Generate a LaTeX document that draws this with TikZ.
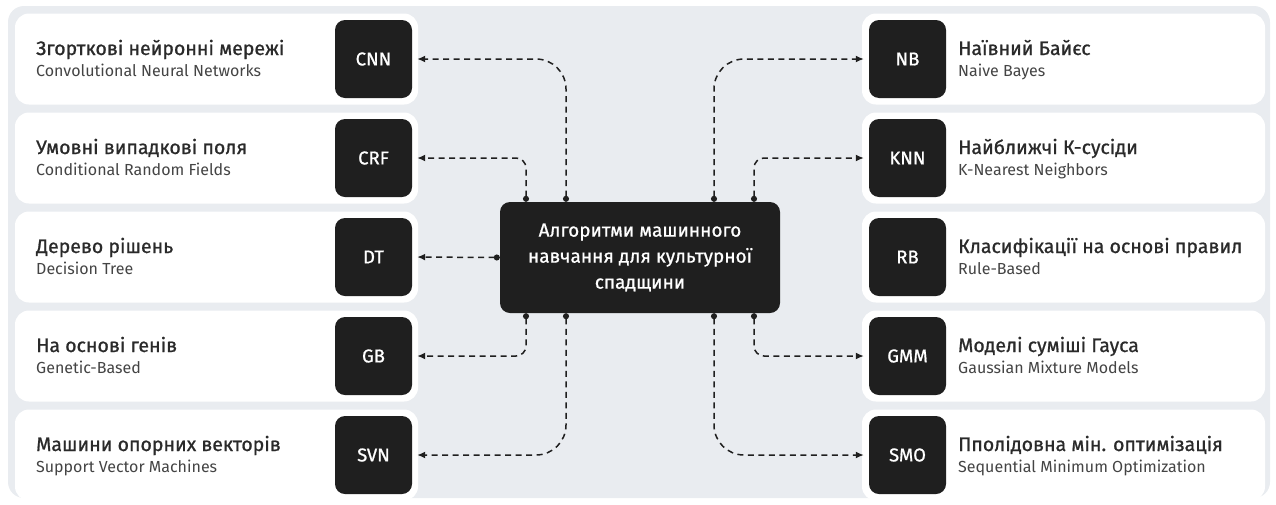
\documentclass[tikz,border=0pt]{standalone}
\usepackage{fontspec}
\setmainfont{Fira Sans}
\newfontfamily\medfont{Fira Sans}[FakeBold=0.9]
\usetikzlibrary{arrows.meta}
\definecolor{panel}{HTML}{E9ECF0}
\definecolor{ink}{HTML}{1F1F1F}
\definecolor{txt}{HTML}{2A2A2A}
\definecolor{subtxt}{HTML}{444444}
\begin{document}
\begin{tikzpicture}
[x=1pt, y=-1pt,
       row/.style={fill=white, rounded corners=14pt, minimum width=403pt, minimum height=91pt, inner sep=0pt},
       tag/.style={fill=ink, rounded corners=10pt, minimum width=77pt, minimum height=78pt, inner sep=0pt,
                   text=white, font=\medfont\fontsize{18.5}{20}\selectfont},
       hub/.style={fill=ink, rounded corners=10pt, minimum width=280pt, minimum height=111pt,
                   text=white, align=center, font=\medfont\fontsize{19}{26}\selectfont},
       title/.style={anchor=base west, inner sep=0pt, text=txt, font=\medfont\fontsize{19.5}{20}\selectfont},
       sub/.style={anchor=base west, inner sep=0pt, text=subtxt, font=\fontsize{16}{16}\selectfont},
       link/.style={draw=ink, line width=1.5pt, dash pattern=on 6pt off 4.5pt,
                    {Circle[length=6pt,width=6pt]}-{Latex[length=8pt,width=7pt]}, shorten >=5pt}]
  \useasboundingbox (0,0) rectangle (1276,504);
  \fill[panel] (8,6) [rounded corners=16pt] rectangle (1270,498);
  % left column
  \foreach \name/\y/\ua/\en in {CNN/59/Згорткові нейронні мережі/Convolutional Neural Networks,
                                CRF/158/Умовні випадкові поля/Conditional Random Fields,
                                DT/257/Дерево рішень/Decision Tree,
                                GB/356/На основі генів/Genetic-Based,
                                SVN/455/Машини опорних векторів/Support Vector Machines}{
    \node[row] (row\name) at (216.5,\y) {};
    \node[tag] (\name) at (373.5,\y) {\name};
    \node[title] (t\name) at (36,\y-4) {\ua};
    \node[sub] (s\name) at (36,\y+17) {\en};
  }
  % right column
  \foreach \name/\y/\ua/\en in {NB/59/Наївний Байєс/Naive Bayes,
                                KNN/158/Найближчі К-сусіди/K-Nearest Neighbors,
                                RB/257/Класифікації на основі правил/Rule-Based,
                                GMM/356/Моделі суміші Гауса/Gaussian Mixture Models,
                                SMO/455/Пполідовна мін. оптимізація/Sequential Minimum Optimization}{
    \node[row] (row\name) at (1063.5,\y) {};
    \node[tag] (\name) at (907.5,\y) {\name};
    \node[title] (t\name) at (958,\y-4) {\ua};
    \node[sub] (s\name) at (958,\y+17) {\en};
  }
  \node[hub] (hub) at (640,257.5) {Алгоритми машинного\\навчання для культурної\\спадщини};
  % connectors
  \draw[link, rounded corners=30pt] ([xshift=-74pt]hub.north) |- (CNN.east);
  \draw[link, rounded corners=10pt] ([xshift=-114pt]hub.north) |- (CRF.east);
  \draw[link] (hub.west) -- (DT.east);
  \draw[link, rounded corners=10pt] ([xshift=-114pt]hub.south) |- (GB.east);
  \draw[link, rounded corners=30pt] ([xshift=-74pt]hub.south) |- (SVN.east);
  \draw[link, rounded corners=30pt] ([xshift=74pt]hub.north) |- (NB.west);
  \draw[link, rounded corners=10pt] ([xshift=114pt]hub.north) |- (KNN.west);
  \draw[link, rounded corners=10pt] ([xshift=114pt]hub.south) |- (GMM.west);
  \draw[link, rounded corners=30pt] ([xshift=74pt]hub.south) |- (SMO.west);
\end{tikzpicture}
\end{document}
